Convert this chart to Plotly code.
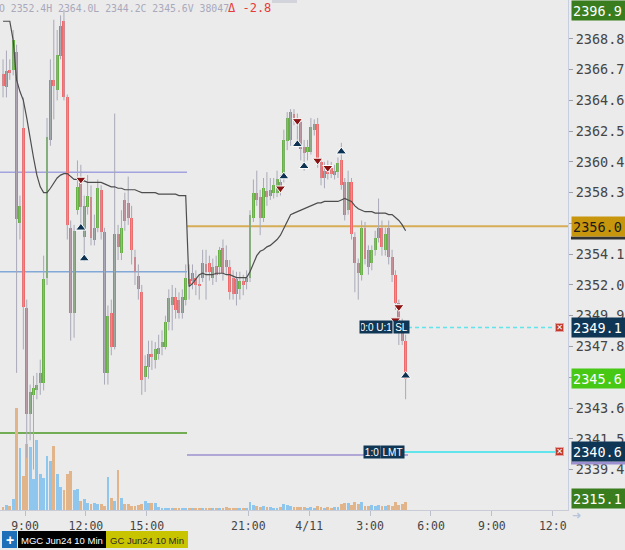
import plotly.graph_objects as go
import pandas as pd

# ---------------- data ----------------
bar_times = list(pd.date_range("2024-04-10 07:50", "2024-04-10 16:50", freq="10min")) + \
            list(pd.date_range("2024-04-10 18:00", "2024-04-11 04:40", freq="10min"))

opens = [
    2366.4, 2365.5, 2366.7, 2366.7, 2367.9, 2356.2, 2362.7, 2350.4, 2343.2, 2344.5,
    2344.8, 2345.3, 2345.3, 2352.5, 2361.9, 2366.0, 2365.3, 2367.6, 2370.0, 2364.8,
    2355.9, 2350.1, 2357.1, 2359.0, 2355.3, 2357.3, 2358.0, 2355.1, 2355.9, 2358.5,
    2355.6, 2346.0, 2350.1, 2347.8, 2355.5, 2354.2, 2357.8, 2357.6, 2356.6, 2353.9,
    2352.6, 2351.5, 2345.7, 2346.4, 2347.3, 2346.9, 2347.3, 2347.8, 2347.8, 2349.5,
    2350.6, 2351.2, 2351.0, 2350.1, 2351.0,
    2352.4, 2352.3, 2352.5, 2352.1, 2352.5, 2353.4, 2353.5, 2352.5, 2353.3, 2353.2,
    2354.5, 2353.7, 2353.2, 2352.5, 2352.4, 2351.7, 2352.3, 2352.2, 2352.5, 2356.6,
    2358.3, 2358.0, 2356.6, 2358.4, 2358.1, 2358.3, 2358.3, 2359.0, 2359.4, 2361.8,
    2361.9, 2363.7, 2363.4, 2363.1, 2361.4, 2361.1, 2361.1, 2362.6, 2363.0, 2360.4,
    2359.3, 2360.0, 2360.0, 2359.5, 2359.7, 2360.5, 2359.0, 2357.1, 2359.0, 2355.3,
    2353.5, 2352.7, 2355.9, 2354.4, 2353.5, 2354.4, 2355.2, 2355.9, 2354.4, 2355.9,
    2353.9, 2352.7, 2350.8, 2349.5, 2348.2]
closes = [
    2365.6, 2366.6, 2366.5, 2368.7, 2356.5, 2357.4, 2350.5, 2343.2, 2344.7, 2345.0,
    2345.2, 2346.0, 2352.4, 2362.1, 2366.0, 2365.6, 2367.7, 2369.7, 2364.8, 2356.1,
    2350.1, 2355.7, 2358.7, 2357.3, 2357.4, 2358.1, 2355.2, 2355.9, 2358.6, 2355.6,
    2346.0, 2349.9, 2347.8, 2355.5, 2354.6, 2355.9, 2356.4, 2356.6, 2354.4, 2352.9,
    2351.7, 2345.5, 2346.5, 2347.3, 2347.1, 2347.6, 2347.7, 2348.1, 2349.5, 2351.1,
    2351.2, 2350.3, 2350.1, 2351.2, 2352.5,
    2352.1, 2352.8, 2352.0, 2351.9, 2353.5, 2352.9, 2352.9, 2353.2, 2352.7, 2354.4,
    2352.8, 2353.2, 2351.5, 2351.4, 2351.4, 2352.3, 2352.0, 2352.5, 2356.8, 2358.3,
    2357.8, 2356.6, 2358.6, 2358.0, 2358.5, 2358.8, 2359.2, 2358.6, 2361.9, 2363.4,
    2363.8, 2363.4, 2363.0, 2361.3, 2361.0, 2361.4, 2362.8, 2363.0, 2360.4, 2359.3,
    2359.8, 2359.6, 2359.6, 2359.8, 2360.3, 2358.8, 2356.8, 2359.0, 2355.5, 2353.5,
    2352.8, 2355.9, 2353.8, 2353.2, 2354.4, 2355.2, 2355.9, 2354.6, 2355.5, 2353.9,
    2352.7, 2350.8, 2349.5, 2348.2, 2345.6]
highs = [
    2367.4, 2368.0, 2367.4, 2369.4, 2368.4, 2358.1, 2364.8, 2351.0, 2345.2, 2345.8,
    2346.0, 2346.9, 2354.0, 2363.4, 2367.4, 2370.1, 2369.4, 2370.4, 2370.8, 2365.0,
    2356.4, 2356.1, 2360.5, 2360.2, 2358.1, 2359.5, 2358.8, 2356.8, 2359.2, 2358.8,
    2355.9, 2350.6, 2351.0, 2363.7, 2356.1, 2357.1, 2358.3, 2359.4, 2357.4, 2354.4,
    2353.4, 2352.0, 2347.2, 2348.2, 2348.2, 2348.1, 2348.6, 2348.9, 2349.9, 2351.7,
    2352.0, 2351.8, 2351.5, 2351.7, 2353.4,
    2353.4, 2353.4, 2353.0, 2352.7, 2354.4, 2354.4, 2354.0, 2353.8, 2354.0, 2354.6,
    2355.1, 2354.7, 2353.7, 2353.0, 2352.9, 2352.9, 2352.7, 2353.0, 2357.1, 2359.2,
    2359.8, 2358.5, 2359.3, 2359.7, 2359.3, 2359.3, 2359.8, 2359.5, 2362.6, 2363.8,
    2364.0, 2364.0, 2363.7, 2363.4, 2361.9, 2361.9, 2363.4, 2363.3, 2363.4, 2360.7,
    2360.4, 2360.5, 2360.4, 2360.2, 2360.7, 2361.7, 2359.3, 2359.8, 2359.3, 2355.6,
    2353.8, 2356.4, 2356.3, 2354.7, 2354.7, 2355.7, 2357.9, 2356.4, 2355.9, 2356.4,
    2354.4, 2353.0, 2351.0, 2349.7, 2348.6]
lows = [
    2364.8, 2364.8, 2366.0, 2366.3, 2346.0, 2355.1, 2347.6, 2340.2, 2341.4, 2339.4,
    2344.2, 2344.5, 2344.8, 2352.0, 2361.5, 2363.3, 2364.6, 2367.4, 2364.6, 2355.1,
    2348.2, 2348.4, 2356.8, 2356.1, 2353.6, 2356.8, 2354.7, 2354.7, 2355.6, 2355.1,
    2345.2, 2345.2, 2347.2, 2347.6, 2353.7, 2353.7, 2355.7, 2356.1, 2353.4, 2352.0,
    2351.0, 2344.5, 2344.7, 2345.6, 2346.2, 2346.3, 2346.9, 2347.2, 2347.6, 2348.9,
    2348.9, 2349.7, 2349.7, 2349.7, 2350.6,
    2351.0, 2351.7, 2351.3, 2351.0, 2352.2, 2351.0, 2352.3, 2352.0, 2352.2, 2352.7,
    2352.3, 2352.7, 2351.0, 2351.0, 2350.6, 2351.0, 2351.3, 2351.7, 2352.2, 2356.3,
    2357.4, 2355.4, 2356.3, 2357.4, 2357.8, 2357.9, 2358.0, 2358.1, 2359.0, 2361.2,
    2361.5, 2362.9, 2361.9, 2360.5, 2359.8, 2360.5, 2360.9, 2362.2, 2360.0, 2358.8,
    2358.6, 2359.2, 2359.3, 2359.2, 2359.3, 2358.5, 2356.4, 2356.8, 2355.1, 2351.5,
    2351.0, 2352.3, 2353.4, 2352.7, 2353.0, 2354.0, 2354.9, 2354.0, 2354.0, 2353.4,
    2352.2, 2350.3, 2347.9, 2347.9, 2344.2]
volumes = [
    200, 300, 240, 640, 6100, 3740, 2060, 3960, 3800, 1860,
    4200, 2160, 1900, 3240, 2960, 3840, 2160, 1400, 1200, 2160,
    2360, 1200, 1240, 560, 640, 440, 360, 440, 360, 360,
    240, 1960, 700, 560, 2400, 700, 360, 360, 240, 240,
    300, 360, 560, 400, 400, 400, 180, 120, 150, 90,
    120, 90, 120, 90, 120,
    120, 90, 120, 120, 150, 120, 120, 90, 120, 90,
    120, 180, 120, 120, 90, 120, 120, 150, 460, 300,
    240, 180, 240, 180, 210, 150, 120, 180, 360, 300,
    240, 210, 180, 210, 180, 150, 180, 150, 240, 180,
    150, 180, 150, 180, 180, 360, 420, 450, 300, 480,
    360, 480, 240, 270, 300, 270, 300, 270, 240, 300,
    240, 480, 300, 360, 480]
vwap = [
    2370.0, 2370.0, 2370.0, 2368.7, 2366.0, 2365.2, 2364.6, 2363.4, 2361.9, 2360.7,
    2359.5, 2358.7, 2358.3, 2358.3, 2358.6, 2359.0, 2359.3, 2359.5, 2359.6, 2359.6,
    2359.4, 2359.2, 2359.2, 2359.1, 2359.1, 2359.0, 2359.0, 2359.0, 2359.0, 2359.0,
    2358.9, 2358.8, 2358.7, 2358.7, 2358.6, 2358.6, 2358.5, 2358.5, 2358.5, 2358.5,
    2358.4, 2358.3, 2358.3, 2358.3, 2358.3, 2358.3, 2358.2, 2358.2, 2358.2, 2358.2,
    2358.2, 2358.2, 2358.1, 2358.1, 2358.1,
    2351.9, 2352.1, 2352.4, 2352.7, 2352.8, 2352.7, 2352.7, 2352.7, 2352.8, 2352.8,
    2352.8, 2352.7, 2352.7, 2352.6, 2352.5, 2352.5, 2352.5, 2352.5, 2352.9, 2353.4,
    2354.0, 2354.3, 2354.4, 2354.6, 2354.7, 2354.9, 2355.1, 2355.4, 2355.9, 2356.4,
    2356.8, 2356.9, 2357.0, 2357.1, 2357.2, 2357.3, 2357.4, 2357.5, 2357.6, 2357.6,
    2357.7, 2357.7, 2357.7, 2357.7, 2357.7, 2357.8, 2357.9, 2357.8, 2357.7, 2357.4,
    2357.2, 2357.1, 2357.0, 2357.0, 2357.0, 2356.9, 2356.9, 2356.9, 2356.9, 2356.8,
    2356.8, 2356.6, 2356.4, 2356.1, 2355.7]

sell_idx = [23, 82, 87, 93, 96, 117, 116]
sell_px = [2359.2, 2358.6, 2363.2, 2360.5, 2360.0, 2350.5, 2349.6]
buy_idx = [23, 24, 83, 87, 89, 100, 119]
buy_px = [2355.9, 2353.8, 2359.4, 2361.6, 2360.1, 2361.1, 2345.8]

level_prior_hi = 2359.7
level_prior_mid = 2352.9
level_prior_lo = 2341.9
level_gold = 2356.0
level_purple = 2340.4
stop_price = 2349.1
limit_price = 2340.6
last_price = 2345.6
off_hi = 2396.9
off_lo = 2315.1

tick_vals = [2339.4, 2341.5, 2343.6, 2345.7, 2347.8, 2349.9, 2352.0, 2354.1,
             2356.2, 2358.3, 2360.4, 2362.5, 2364.6, 2366.7, 2368.8]
tick_hidden = [2345.7, 2356.2]   # fully covered by price labels in the reference
x_tick_vals = ["2024-04-10 09:00", "2024-04-10 12:00", "2024-04-10 15:00",
               "2024-04-10 21:00", "2024-04-11 00:00", "2024-04-11 03:00",
               "2024-04-11 06:00", "2024-04-11 09:00", "2024-04-11 12:00"]
x_tick_text = ["9:00", "12:00", "15:00", "21:00", "4/11", "3:00", "6:00", "9:00", "12:0"]

header_text = "O 2352.4H 2364.0L 2344.2C 2345.6V 38047"
delta_text = "Δ -2.8"

# ---------------- styling ----------------
W, H = 625, 550
PL, PR, PT, PB = 0, 568, 0, 510
MONO = "DejaVu Sans Mono"
SANS = "Liberation Sans"
BG = "#ebebeb"
UP, DN = "#66b044", "#ef6b6b"
VUP, VDN = "#8ec6ee", "#e2b48a"
WICK = "#a9a9b8"
NAVY = "#0f3755"
CYAN = "#62e4ec"

def px_x(p):
    return (p - PL) / (PR - PL)

def px_y(p):
    return (PB - p) / (PB - PT)

centers = [t + pd.Timedelta(minutes=5) for t in bar_times]
is_up = [c >= o for o, c in zip(opens, closes)]

fig = go.Figure()

# volume (base axis, drawn beneath)
fig.add_trace(go.Bar(
    x=centers, y=volumes, yaxis="y", width=500000,
    marker=dict(color=[VUP if u else VDN for u in is_up], line=dict(width=0)),
    hoverinfo="skip"))

# wicks
wx, wy = [], []
for t, lo, hi in zip(centers, lows, highs):
    wx += [t, t, None]
    wy += [lo, hi, None]
fig.add_trace(go.Scatter(x=wx, y=wy, yaxis="y2", mode="lines",
                         line=dict(color=WICK, width=1), hoverinfo="skip"))

# bodies
fig.add_trace(go.Bar(
    x=centers,
    y=[max(abs(c - o), 0.06) for o, c in zip(opens, closes)],
    base=[min(o, c) for o, c in zip(opens, closes)],
    yaxis="y2", width=520000,
    marker=dict(color=[UP if u else DN for u in is_up], line=dict(width=0)),
    hoverinfo="skip"))

# vwap
fig.add_trace(go.Scatter(x=centers, y=vwap, yaxis="y2", mode="lines",
                         line=dict(color="#4d4d4d", width=1.2), hoverinfo="skip"))

# trade markers
fig.add_trace(go.Scatter(
    x=[centers[i] for i in sell_idx], y=sell_px, yaxis="y2", mode="markers",
    marker=dict(symbol="triangle-down", size=9, color="#8a1414",
                line=dict(color="white", width=1)), hoverinfo="skip"))
fig.add_trace(go.Scatter(
    x=[centers[i] for i in buy_idx], y=buy_px, yaxis="y2", mode="markers",
    marker=dict(symbol="triangle-up", size=9, color="#0d3252",
                line=dict(color="white", width=1)), hoverinfo="skip"))

shapes = []
def hline(x0p, x1p, price, color, width=1.5, dash="solid", layer="below"):
    shapes.append(dict(type="line", xref="paper", yref="y2", x0=px_x(x0p), x1=px_x(x1p),
                       y0=price, y1=price, line=dict(color=color, width=width, dash=dash),
                       layer=layer))

hline(0, 187, level_prior_hi, "#a3a3e0")
hline(0, 187, level_prior_mid, "#82a8d8")
hline(0, 187, level_prior_lo, "#72ad55", width=2)
hline(187, 568, level_gold, "#d6ad55", width=2)
hline(187, 408, level_purple, "#9d90d0")
hline(408, 556, stop_price, CYAN, width=1.5, dash="4px,3px", layer="above")
hline(402, 556, limit_price, CYAN, width=2, layer="above")

def rect_px(x0, y0, x1, y1, color, layer="above"):
    shapes.append(dict(type="rect", xref="paper", yref="paper",
                       x0=px_x(x0), x1=px_x(x1), y0=px_y(y1), y1=px_y(y0),
                       fillcolor=color, line=dict(width=0), layer=layer))

# small grey box at top, label underlines, bottom tabs
rect_px(272, 0, 297, 3, "#d3d3db")
rect_px(571, 236.5, 625, 239.5, "#333333")
rect_px(571, 461.5, 625, 464.5, "#9d90d0")
rect_px(2, 531, 17, 548, "#1f6eb8")
rect_px(18, 531, 106, 548, "#000000")
rect_px(106, 531, 188, 548, "#c9c400")

ann = []
def side_label(text, bg, fg, yref, yval, yanchor="middle"):
    ann.append(dict(text=text, xref="paper", x=px_x(571), xanchor="left",
                    yref=yref, y=yval, yanchor=yanchor, showarrow=False,
                    bgcolor=bg, font=dict(family=MONO, size=13.5, color=fg),
                    width=52, height=17, align="left", borderpad=1))

side_label(f"{off_hi:.1f}", "#3a7d1e", "white", "paper", 1.0, "top")
side_label(f"{level_gold:.1f}", "#c8960c", "#1a1a1a", "y2", level_gold)
side_label(f"{stop_price:.1f}", NAVY, "white", "y2", stop_price)
side_label(f"{last_price:.1f}", "#46c814", "white", "y2", last_price)
side_label(f"{limit_price:.1f}", NAVY, "white", "y2", limit_price)
side_label(f"{off_lo:.1f}", "#3a7d1e", "white", "paper", px_y(509), "bottom")

def tag(text, x0, w, price, bg=NAVY):
    ann.append(dict(text=text, xref="paper", x=px_x(x0), xanchor="left",
                    yref="y2", y=price, yanchor="middle", showarrow=False,
                    bgcolor=bg, font=dict(family=SANS, size=10, color="white"),
                    width=w, height=10, align="center", borderpad=1))

tag("0:0 U:1", 359, 30, stop_price)
tag("SL", 393, 13, stop_price)
tag("1:0", 363, 14, limit_price)
tag("LMT", 380, 21, limit_price)
for pr in (stop_price, limit_price):
    ann.append(dict(text="✕", xref="paper", x=px_x(559), xanchor="center",
                    yref="y2", y=pr, yanchor="middle", showarrow=False,
                    bgcolor="#c0392b", bordercolor="#e8a0a0", borderwidth=1,
                    font=dict(family="DejaVu Sans", size=8, color="white"),
                    width=7, height=7, borderpad=0))

ann.append(dict(text=header_text, xref="paper", x=px_x(-3), xanchor="left",
                yref="paper", y=px_y(8), yanchor="middle", showarrow=False,
                font=dict(family=MONO, size=9.8, color="#a9a9bb")))
ann.append(dict(text=delta_text, xref="paper", x=px_x(226), xanchor="left",
                yref="paper", y=px_y(8), yanchor="middle", showarrow=False,
                font=dict(family=MONO, size=12, color="#e83a3a")))
ann.append(dict(text="<b>+</b>", xref="paper", x=px_x(9.5), xanchor="center",
                yref="paper", y=px_y(539.5), yanchor="middle", showarrow=False,
                font=dict(family=SANS, size=14, color="white")))
ann.append(dict(text="MGC Jun24 10 Min", xref="paper", x=px_x(62), xanchor="center",
                yref="paper", y=px_y(540), yanchor="middle", showarrow=False,
                font=dict(family=SANS, size=9.5, color="white")))
ann.append(dict(text="GC Jun24 10 Min", xref="paper", x=px_x(147), xanchor="center",
                yref="paper", y=px_y(540), yanchor="middle", showarrow=False,
                font=dict(family=SANS, size=9.5, color="#2a2a2a")))
ann.append(dict(text="➜", xref="paper", x=px_x(576), xanchor="center",
                yref="paper", y=px_y(515), yanchor="middle", showarrow=False,
                font=dict(family="DejaVu Sans", size=11, color="#b8c4da")))

fig.update_layout(
    width=W, height=H,
    margin=dict(l=PL, r=W - PR, t=PT, b=H - PB),
    paper_bgcolor=BG, plot_bgcolor=BG,
    showlegend=False, barmode="overlay", bargap=0,
    xaxis=dict(type="date", range=["2024-04-10 07:46", "2024-04-11 12:45"],
               rangebreaks=[dict(bounds=[17, 18], pattern="hour")],
               tickvals=x_tick_vals, ticktext=x_tick_text,
               showgrid=False, zeroline=False, showline=True, linecolor="#c9ccd6",
               ticks="outside", ticklen=5, tickcolor="#bcc0cc",
               tickfont=dict(family=MONO, size=11.5, color="#454545")),
    yaxis=dict(range=[0, 30600], visible=False, showgrid=False),
    yaxis2=dict(overlaying="y", side="right", anchor="x",
                range=[2336.64, 2371.45],
                tickvals=tick_vals,
                ticktext=["" if v in tick_hidden else f"{v:.1f}" for v in tick_vals],
                showgrid=False, zeroline=False, showline=True, linecolor="#c6cee0",
                ticks="outside", ticklen=4, tickcolor="#a0a0a8",
                tickfont=dict(family=MONO, size=13.5, color="#454545")),
    shapes=shapes, annotations=ann,
)

fig.write_html("out.html")
